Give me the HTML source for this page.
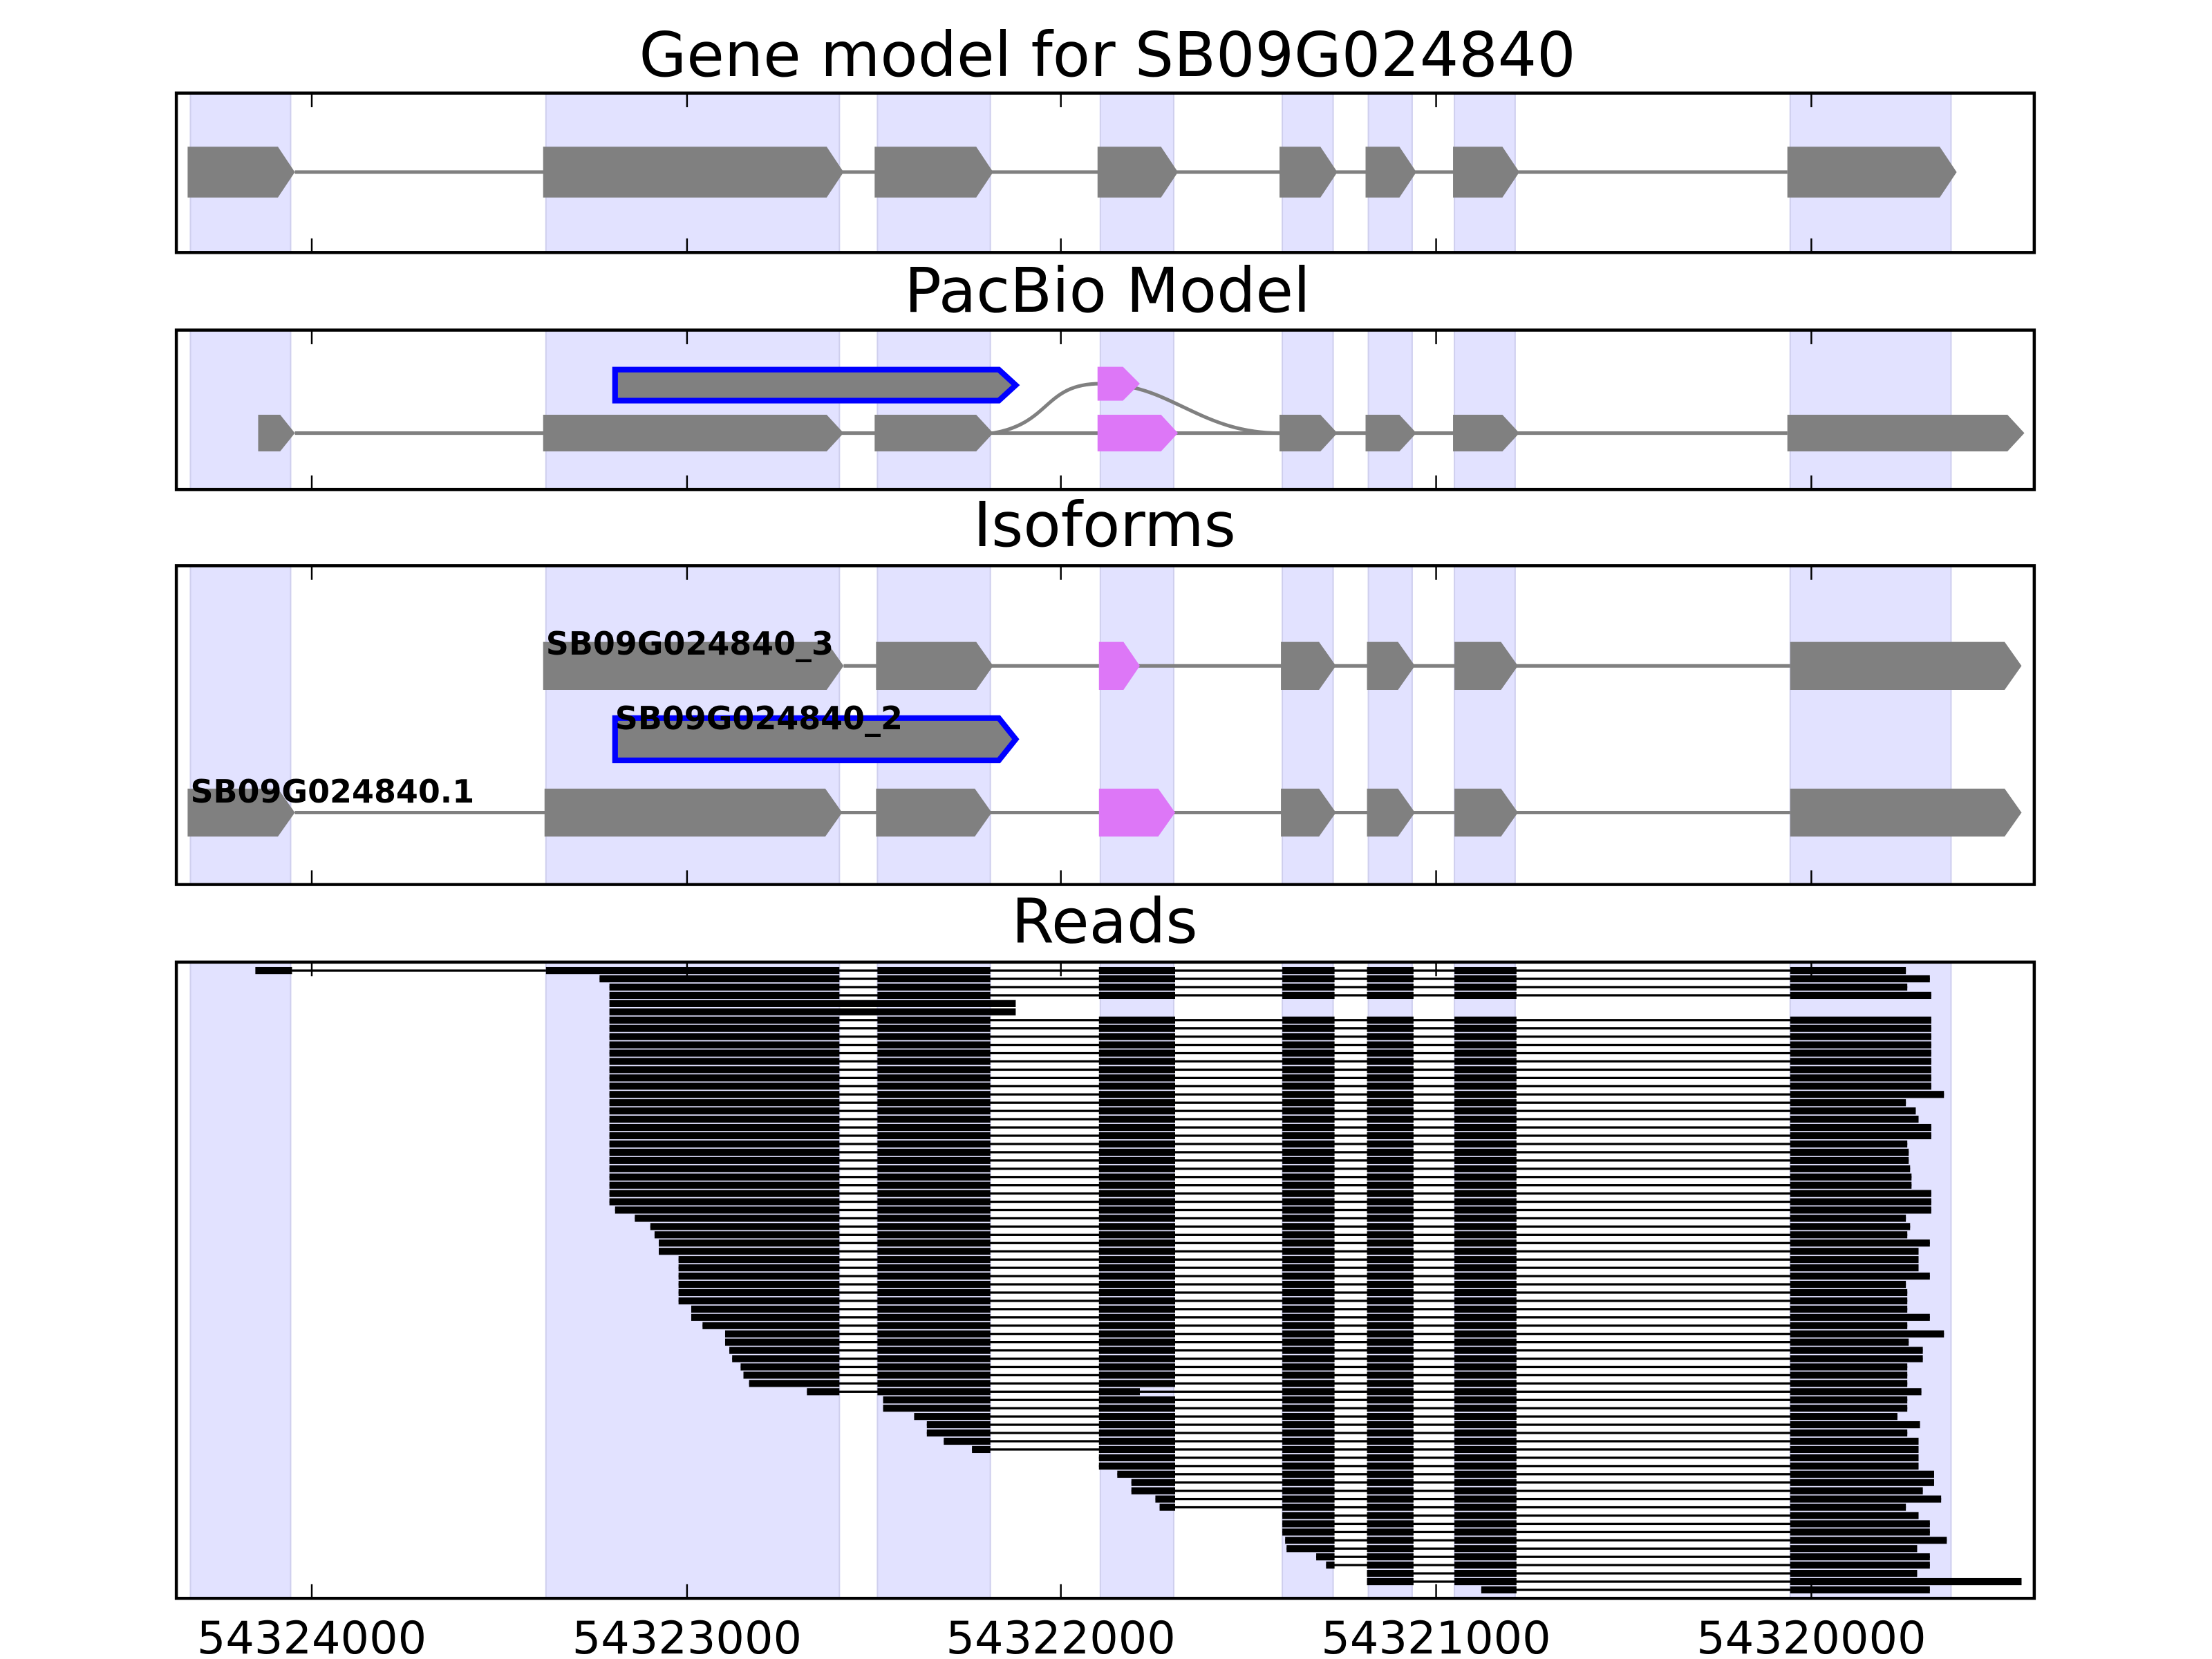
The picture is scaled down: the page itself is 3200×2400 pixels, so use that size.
<!DOCTYPE html>
<html><head><meta charset="utf-8"><style>
html,body{margin:0;padding:0;background:#fff}
svg{display:block}
text{font-family:"DejaVu Sans","Liberation Sans",sans-serif}
</style></head><body>
<svg id="s" xmlns="http://www.w3.org/2000/svg" width="3200" height="2400" viewBox="0 0 1568 1176">
<rect width="1568" height="1176" fill="#fff"/>
<g id="bg"></g>
<g id="fg"></g>
<text x="785" y="54" font-size="43.5" text-anchor="middle">Gene model for SB09G024840</text>
<text x="785" y="221" font-size="43.5" text-anchor="middle">PacBio Model</text>
<text x="783" y="387" font-size="43.5" text-anchor="middle">Isoforms</text>
<text x="783" y="668" font-size="43.5" text-anchor="middle">Reads</text>
<g font-size="22.5" font-weight="bold">
<text x="387" y="464">SB09G024840_3</text>
<text x="436" y="517">SB09G024840_2</text>
<text x="135" y="569">SB09G024840.1</text>
</g>
<g font-size="32" text-anchor="middle">
<text x="221" y="1172">54324000</text>
<text x="487" y="1172">54323000</text>
<text x="752" y="1172">54322000</text>
<text x="1018" y="1172">54321000</text>
<text x="1284" y="1172">54320000</text>
</g>
</svg>
<script>
var NS="http://www.w3.org/2000/svg";
var bg=document.getElementById('bg'),fg=document.getElementById('fg');
function el(p,tag,a){var e=document.createElementNS(NS,tag);for(var k in a)e.setAttribute(k,a[k]);p.appendChild(e);return e;}
var panels=[[66,179],[234,347],[401,627],[682,1133]];
var spans=[[135,206],[387,595],[622,702],[780,832],[909,945],[970,1001],[1031,1074],[1269,1383]];
var ticks=[221,487,752,1018,1284];
panels.forEach(function(p){
  spans.forEach(function(s){el(bg,'rect',{x:s[0],y:p[0],width:s[1]-s[0],height:p[1]-p[0],fill:'#e2e2ff',stroke:'#cfcfee','stroke-width':1});});
});
function exon(x1,x2,yc,h,fill,stroke){
  var t=Math.min(12,(x2-x1)*0.4);
  var pts=[[x1,yc-h/2],[x2-t,yc-h/2],[x2,yc],[x2-t,yc+h/2],[x1,yc+h/2]].map(function(q){return q.join(',')}).join(' ');
  var a={points:pts,fill:fill};
  if(stroke){a.stroke=stroke;a['stroke-width']=4;}
  el(fg,'polygon',a);
}
function line(x1,x2,y){el(fg,'line',{x1:x1,x2:x2,y1:y,y2:y,stroke:'#808080','stroke-width':2.5});}
var G='#808080',P='#dd77f7';
line(209,1267,122);
[[133,209],[385,598],[620,704],[778,835],[907,948],[968,1004],[1030,1077],[1267,1387]].forEach(function(e){exon(e[0],e[1],122,36,G);});
line(209,1267,307);
el(fg,'path',{d:'M704,307 C745,300 740,272 780,272 C830,272 850,307 907,307',fill:'none',stroke:'#808080','stroke-width':2.5});
[[183,209,G],[385,598,G],[620,704,G],[778,835,P],[907,948,G],[968,1004,G],[1030,1077,G],[1267,1435,G]].forEach(function(e){exon(e[0],e[1],307,26,e[2]);});
exon(436,720,273,22,G,'#0000ff');
exon(778,808,272,24,P);
line(598,1269,472);
[[385,598,G],[621,704,G],[779,808,P],[908,947,G],[969,1003,G],[1031,1076,G],[1269,1433,G]].forEach(function(e){exon(e[0],e[1],472,34,e[2]);});
exon(436,720,524,30,G,'#0000ff');
line(209,1269,576);
[[133,209,G],[386,597,G],[621,703,G],[779,833,P],[908,947,G],[969,1003,G],[1031,1076,G],[1269,1433,G]].forEach(function(e){exon(e[0],e[1],576,34,e[2]);});
var L=[181,425];for(var i=2;i<=28;i++)L.push(432);
L=L.concat([436,450,461,464,467,467,481,481,481,481,481,481,490,490,498,514,514,517,519,525,527,531,572,626,626,648,657,657,669,689,779,779,792,802,802,819,822,909,909,909,911,912,933,940,969,969,1050]);
var R=[1351,1368,1352,1369,0,0,1369,1369,1369,1369,1369,1369,1369,1369,1369,1378,1351,1358,1360,1369,1369,1352,1353,1353,1354,1355,1355,1369,1369,1369,1351,1354,1352,1368,1360,1360,1360,1368,1351,1352,1352,1352,1368,1352,1378,1353,1363,1363,1352,1352,1352,1362,1352,1352,1345,1361,1352,1360,1360,1360,1360,1371,1371,1363,1376,1351,1360,1368,1368,1380,1359,1368,1368,1359,1433,1368];
var ex=[[622,702],[779,833],[909,946],[969,1002],[1031,1075]];
var n=L.length,y0=688,dy=(1127-688)/(n-1),bh=5.0;
function blk(a,b,y){if(b>a)el(fg,'rect',{x:a,y:y-bh/2,width:b-a,height:bh,fill:'#000'});}
for(var r=0;r<n;r++){
  var y=y0+r*dy,l=L[r],rt=R[r]||1368;
  if(r==4||r==5){blk(432,720,y);continue;}
  if(r==0){blk(181,207,y);el(fg,'rect',{x:207,y:y-0.8,width:180,height:1.6,fill:'#000'});l=387;}
  el(fg,'rect',{x:l,y:y-0.8,width:rt-l,height:1.6,fill:'#000'});
  if(l<595)blk(l,595,y);
  for(var k=0;k<ex.length;k++){
    var a=ex[k][0],b=ex[k][1];
    if(r==51&&k==1){blk(779,808,y);continue;}
    if(l<b)blk(Math.max(a,l),b,y);
  }
  blk(1269,rt,y);
}
panels.forEach(function(p){
  el(fg,'rect',{x:125,y:p[0],width:1317,height:p[1]-p[0],fill:'none',stroke:'#000','stroke-width':2.2});
  ticks.forEach(function(t){
    el(fg,'line',{x1:t,x2:t,y1:p[0],y2:p[0]+10,stroke:'#000','stroke-width':1.2});
    el(fg,'line',{x1:t,x2:t,y1:p[1],y2:p[1]-10,stroke:'#000','stroke-width':1.2});
  });
});
</script>
</body></html>
